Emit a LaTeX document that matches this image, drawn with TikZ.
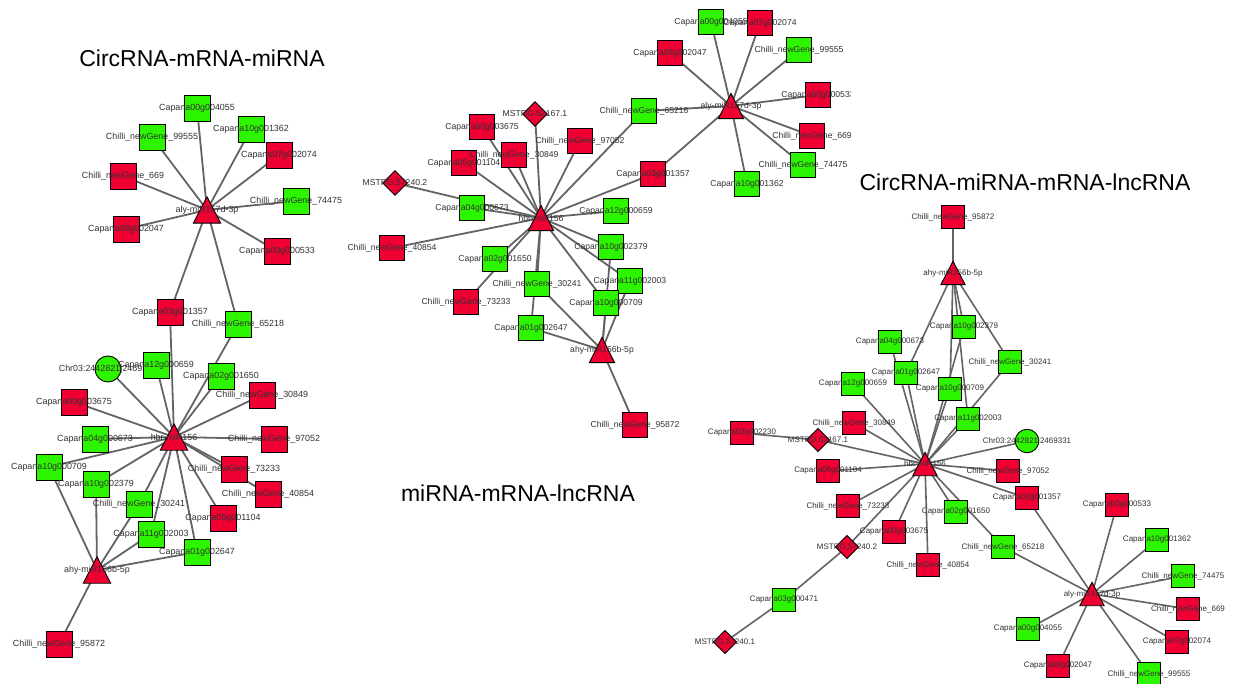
\documentclass[tikz,border=0pt]{standalone}
\usepackage{fontspec}
\setmainfont{Liberation Sans}
\usetikzlibrary{shapes.geometric,backgrounds}
\definecolor{nred}{RGB}{240,0,50}
\definecolor{ngreen}{RGB}{45,245,0}
\definecolor{edgegray}{RGB}{100,100,100}
\definecolor{lblgray}{RGB}{50,50,50}
\def\sqs{26pt}\def\trw{27pt}\def\trh{26pt}\def\lfs{8.9}
\tikzset{
  nborder/.style={draw=black,line width=0.9pt,inner sep=0pt},
  sqr/.style={nborder,rectangle,minimum size=\sqs,fill=nred},
  sqg/.style={nborder,rectangle,minimum size=\sqs,fill=ngreen},
  dia/.style={nborder,diamond,aspect=1,minimum width=\sqs,minimum height=\sqs,fill=nred},
  cig/.style={nborder,circle,minimum size=\sqs,fill=ngreen},
  tribox/.style={rectangle,inner sep=0pt,minimum width=\trw,minimum height=\trh},
  trifill/.style={draw=black,line width=0.9pt,fill=nred,line join=miter},
  lbl/.style={font=\fontsize{\lfs}{\lfs}\selectfont,text=lblgray,inner sep=0pt},
  edge/.style={draw=edgegray,line width=1.8pt},
  ttl/.style={font=\fontsize{23}{26}\selectfont,anchor=base,inner sep=0pt,text=black}
}
\newcommand\RS[3]{\node[sqr] (#1) at (#2) {}; \node[lbl] (#1t) at (#1.center) {#3};}
\newcommand\GS[3]{\node[sqg] (#1) at (#2) {}; \node[lbl] (#1t) at (#1.center) {#3};}
\newcommand\DM[3]{\node[dia] (#1) at (#2) {}; \node[lbl] (#1t) at (#1.center) {#3};}
\newcommand\GC[3]{\node[cig] (#1) at (#2) {}; \node[lbl] (#1t) at (#1.center) {#3};}
\newcommand\TR[3]{\node[tribox] (#1) at (#2) {}; \draw[trifill] (#1.south west) -- (#1.south east) -- (#1.north) -- cycle; \node[lbl] (#1t) at (#1.center) {#3};}
\newcommand\CN[1]{Chilli\_newGene\_#1}
\begin{document}
\begin{tikzpicture}[x=1pt,y=-1pt]
\useasboundingbox (0,0) rectangle (1234,684);
% titles
\node[ttl] (t1) at (202,67) {CircRNA-mRNA-miRNA};
\node[ttl] (t2) at (518,501) {miRNA-mRNA-lncRNA};
\node[ttl] (t3) at (1025,191) {CircRNA-miRNA-mRNA-lncRNA};
% ---------------- left network
\GS{a-00g004055}{197,108}{Capana00g004055}
\GS{a-10g001362}{251,129}{Capana10g001362}
\GS{a-99555}{152,137}{\CN{99555}}
\RS{a-07g002074}{279,155}{Capana07g002074}
\RS{a-669}{123,176}{\CN{669}}
\GS{a-74475}{296,201}{\CN{74475}}
\RS{a-08g002047}{126,229}{Capana08g002047}
\RS{a-00g000533}{277,251}{Capana00g000533}
\RS{a-03g001357}{170,312}{Capana03g001357}
\GS{a-65218}{238,324}{\CN{65218}}
\GC{a-chr}{108,369}{Chr03:2442821|2469331}
\GS{a-12g000659}{156,365}{Capana12g000659}
\GS{a-02g001650}{221,376}{Capana02g001650}
\RS{a-30849}{262,395}{\CN{30849}}
\RS{a-00g003675}{74,402}{Capana00g003675}
\GS{a-04g000673}{95,439}{Capana04g000673}
\RS{a-97052}{274,439}{\CN{97052}}
\GS{a-10g000709}{49,467}{Capana10g000709}
\RS{a-73233}{234,469}{\CN{73233}}
\GS{a-10g002379}{96,484}{Capana10g002379}
\RS{a-40854}{268,494}{\CN{40854}}
\GS{a-30241}{139,504}{\CN{30241}}
\RS{a-05g001104}{223,518}{Capana05g001104}
\GS{a-11g002003}{151,534}{Capana11g002003}
\GS{a-01g002647}{197,552}{Capana01g002647}
\RS{a-95872}{59,644}{\CN{95872}}
\TR{a-aly}{207,210}{aly-miR157d-3p}
\TR{a-hbr}{174,437}{hbr-miR156}
\TR{a-ahy}{97,570}{ahy-miR156b-5p}
% ---------------- middle network
\def\sqs{25pt}\def\trw{25pt}\def\trh{25pt}\def\lfs{8.6}
\DM{b-52167}{535,114}{MSTRG.52167.1}
\RS{b-00g003675}{482,127}{Capana00g003675}
\RS{b-97052}{580,141}{\CN{97052}}
\RS{b-05g001104}{464,163}{Capana05g001104}
\RS{b-30849}{514,155}{\CN{30849}}
\GS{b-65218}{644,111}{\CN{65218}}
\DM{b-57240}{395,183}{MSTRG.57240.2}
\RS{b-03g001357}{653,174}{Capana03g001357}
\GS{b-04g000673}{472,208}{Capana04g000673}
\GS{b-12g000659}{616,211}{Capana12g000659}
\RS{b-40854}{392,248}{\CN{40854}}
\GS{b-10g002379}{611,247}{Capana10g002379}
\GS{b-02g001650}{495,259}{Capana02g001650}
\GS{b-30241}{537,284}{\CN{30241}}
\GS{b-11g002003}{630,281}{Capana11g002003}
\RS{b-73233}{466,302}{\CN{73233}}
\GS{b-10g000709}{606,303}{Capana10g000709}
\GS{b-01g002647}{531,328}{Capana01g002647}
\RS{b-95872}{635,425}{\CN{95872}}
\GS{b-00g004055}{711,22}{Capana00g004055}
\RS{b-07g002074}{760,23}{Capana07g002074}
\RS{b-08g002047}{670,53}{Capana08g002047}
\GS{b-99555}{799,50}{\CN{99555}}
\node[sqr] (b-00g000533) at (818,95) {};
\node[sqr] (b-669) at (812,136) {};
\begin{scope}
\clip (600,0) rectangle (850,300);
\node[lbl] (b-00g000533t) at (b-00g000533.center) {Capana00g000533};
\node[lbl] (b-669t) at (b-669.center) {\CN{669}};
\end{scope}
\GS{b-74475}{803,165}{\CN{74475}}
\GS{b-10g001362}{747,184}{Capana10g001362}
\TR{b-hbr}{541,218}{hbr-miR156}
\TR{b-ahy}{602,350}{ahy-miR156b-5p}
\TR{b-aly}{731,106}{aly-miR157d-3p}
% ---------------- right network
\def\sqs{23.5pt}\def\trw{24pt}\def\trh{23pt}\def\lfs{8.0}
\RS{c-95872}{953,217}{\CN{95872}}
\GS{c-10g002379}{964,327}{Capana10g002379}
\GS{c-04g000673}{890,342}{Capana04g000673}
\GS{c-30241}{1010,362}{\CN{30241}}
\GS{c-12g000659}{853,384}{Capana12g000659}
\GS{c-01g002647}{906,373}{Capana01g002647}
\GS{c-10g000709}{950,389}{Capana10g000709}
\GS{c-11g002003}{968,419}{Capana11g002003}
\RS{c-30849}{854,423}{\CN{30849}}
\RS{c-02g002230}{742,433}{Capana02g002230}
\DM{c-52167}{818,440}{MSTRG.52167.1}
\GC{c-chr}{1027,441}{Chr03:2442821|2469331}
\RS{c-05g001104}{828,471}{Capana05g001104}
\RS{c-97052}{1008,471}{\CN{97052}}
\RS{c-03g001357}{1027,498}{Capana03g001357}
\RS{c-73233}{848,506}{\CN{73233}}
\GS{c-02g001650}{956,512}{Capana02g001650}
\RS{c-00g003675}{894,532}{Capana00g003675}
\DM{c-57240}{847,547}{MSTRG.57240.2}
\GS{c-65218}{1003,547}{\CN{65218}}
\RS{c-40854}{928,565}{\CN{40854}}
\GS{c-03g000471}{784,600}{Capana03g000471}
\DM{c-57240b}{725,642}{MSTRG.57240.1}
\RS{c-00g000533}{1117,505}{Capana00g000533}
\GS{c-10g001362}{1157,540}{Capana10g001362}
\GS{c-74475}{1183,576}{\CN{74475}}
\RS{c-669}{1188,609}{\CN{669}}
\GS{c-00g004055}{1028,629}{Capana00g004055}
\RS{c-07g002074}{1177,642}{Capana07g002074}
\RS{c-08g002047}{1058,666}{Capana08g002047}
\GS{c-99555}{1149,674}{\CN{99555}}
\TR{c-ahy}{953,273}{ahy-miR156b-5p}
\TR{c-hbr}{925,464}{hbr-miR156}
\TR{c-aly}{1092,594}{aly-miR157d-3p}
% ---------------- edges
\begin{scope}[on background layer]
\fill[white] (0,0) rectangle (1234,684);
\foreach \n in {a-00g004055,a-10g001362,a-99555,a-07g002074,a-669,a-74475,a-08g002047,a-00g000533,a-03g001357,a-65218}
  \draw[edge] (a-aly.center) -- (\n.center);
\foreach \n in {a-chr,a-12g000659,a-03g001357,a-65218,a-02g001650,a-30849,a-00g003675,a-04g000673,a-97052,a-10g000709,a-73233,a-10g002379,a-40854,a-30241,a-05g001104,a-11g002003,a-01g002647}
  \draw[edge] (a-hbr.center) -- (\n.center);
\foreach \n in {a-10g000709,a-10g002379,a-30241,a-11g002003,a-01g002647,a-95872}
  \draw[edge] (a-ahy.center) -- (\n.center);
\foreach \n in {b-52167,b-00g003675,b-97052,b-30849,b-05g001104,b-65218,b-57240,b-03g001357,b-04g000673,b-12g000659,b-40854,b-10g002379,b-02g001650,b-30241,b-11g002003,b-73233,b-10g000709,b-01g002647}
  \draw[edge] (b-hbr.center) -- (\n.center);
\foreach \n in {b-10g002379,b-11g002003,b-10g000709,b-30241,b-01g002647,b-95872}
  \draw[edge] (b-ahy.center) -- (\n.center);
\foreach \n in {b-00g004055,b-07g002074,b-08g002047,b-99555,b-00g000533,b-669,b-74475,b-10g001362,b-65218,b-03g001357}
  \draw[edge] (b-aly.center) -- (\n.center);
\foreach \n in {c-95872,c-01g002647,c-10g002379,c-10g000709,c-11g002003,c-30241}
  \draw[edge,line width=1.6pt] (c-ahy.center) -- (\n.center);
\foreach \n in {c-12g000659,c-04g000673,c-01g002647,c-10g000709,c-11g002003,c-10g002379,c-30241,c-30849,c-52167,c-chr,c-05g001104,c-97052,c-03g001357,c-73233,c-02g001650,c-00g003675,c-57240,c-65218,c-40854}
  \draw[edge,line width=1.6pt] (c-hbr.center) -- (\n.center);
\draw[edge,line width=1.6pt] (c-52167.center) -- (c-02g002230.center);
\draw[edge,line width=1.6pt] (c-57240.center) -- (c-03g000471.center);
\draw[edge,line width=1.6pt] (c-03g000471.center) -- (c-57240b.center);
\foreach \n in {c-00g000533,c-10g001362,c-74475,c-669,c-07g002074,c-99555,c-08g002047,c-00g004055,c-03g001357,c-65218}
  \draw[edge,line width=1.6pt] (c-aly.center) -- (\n.center);
\end{scope}
\end{tikzpicture}
\end{document}
